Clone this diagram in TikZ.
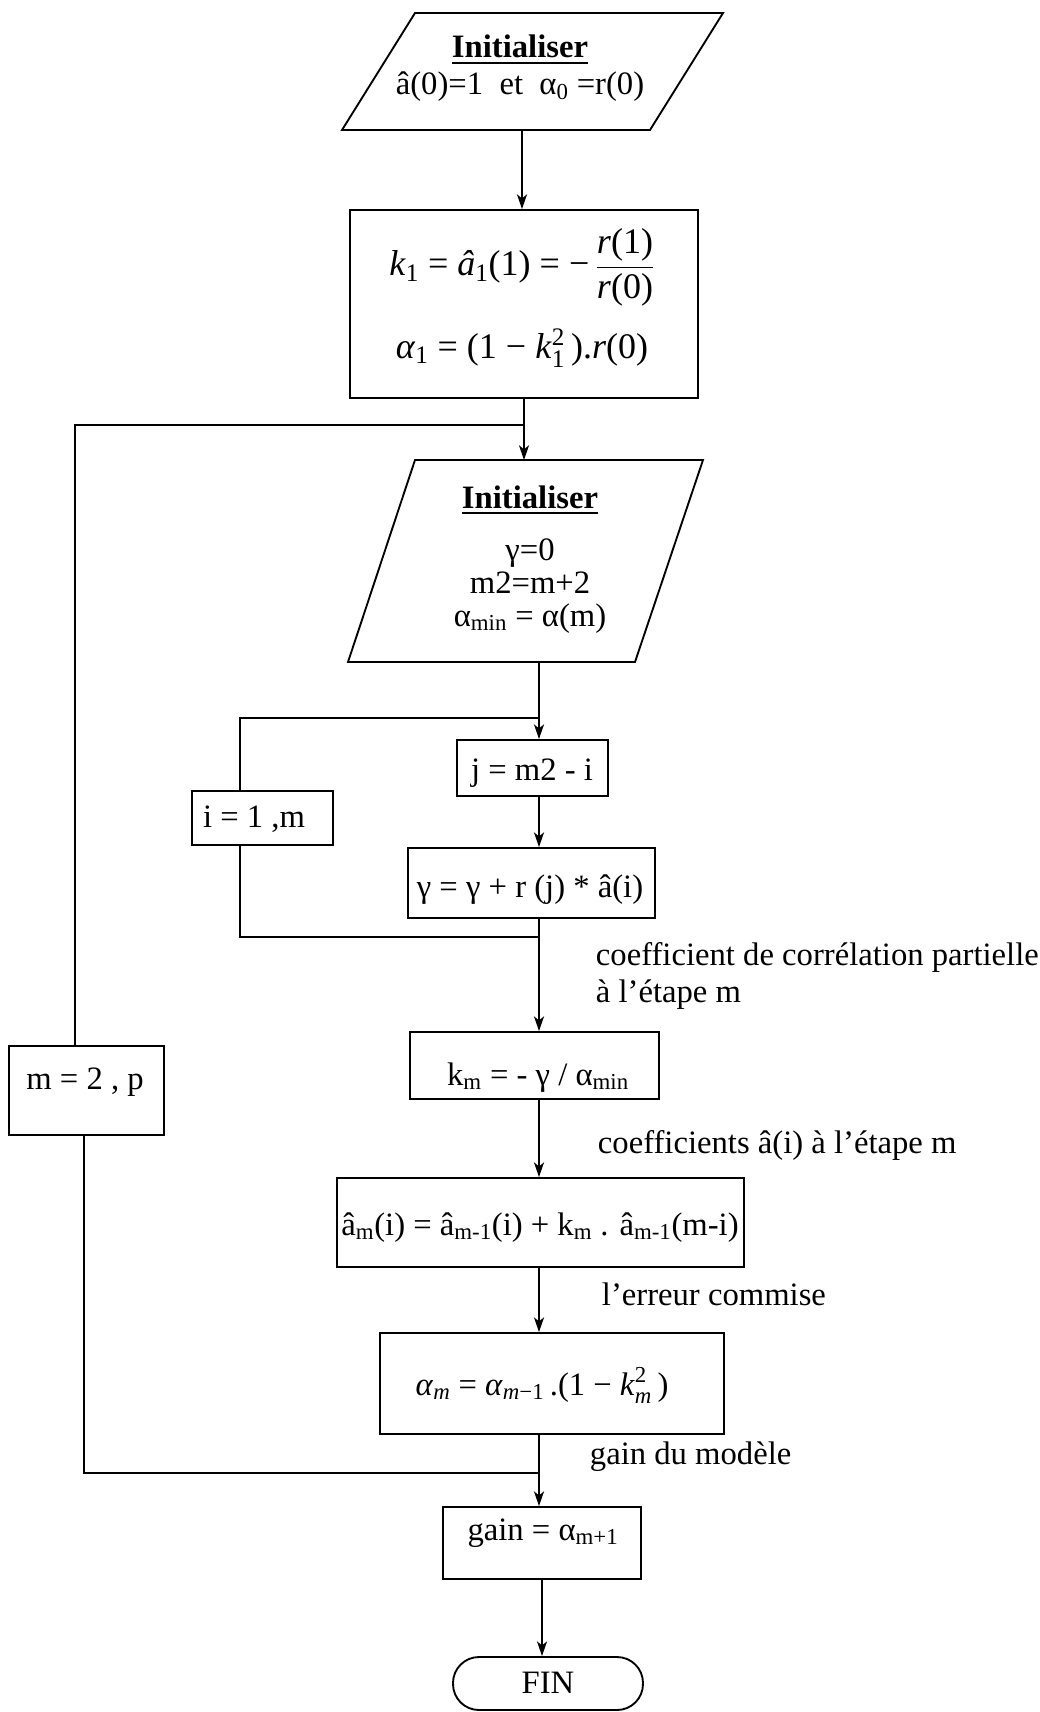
\documentclass[tikz,border=0pt]{standalone}
\usepackage{fontspec}
\usepackage{amsmath}
\setmainfont{Liberation Serif}
\usetikzlibrary{arrows.meta}
\newcommand\supsub[2]{$\text{}^{\text{#1}}_{\text{#2}}$}
\begin{document}
\begin{tikzpicture}[x=0.75pt,y=-0.75pt,
  line width=1.4pt,
  box/.style={draw, inner sep=0pt},
  wh/.style 2 args={minimum width=#1*0.75pt, minimum height=#2*0.75pt},
  txt/.style={anchor=base, inner sep=0pt, font=\fontsize{24.5}{29}\selectfont},
  mtxt/.style={anchor=base, inner sep=0pt, font=\fontsize{27}{32}\selectfont},
  lbl/.style={anchor=base west, inner sep=0pt, font=\fontsize{24.5}{29}\selectfont},
  arr/.style={-{Stealth[length=11pt,width=7.5pt,inset=3pt]}}]
\useasboundingbox (0,0) rectangle (1039,1712);
\fill[white] (0,0) rectangle (1039,1712);

% main column
\coordinate (c) at (539,0);

% first parallelogram
\draw (415,13) -- (723,13) -- (650,130) -- (342,130) -- cycle;
\node[txt] (i1a) at (520,58) {\underline{\textbf{Initialiser}}};
\node[txt] (i1b) at (520,95) {â(0)=1\ \ et\ \ α\textsubscript{0} =r(0)};
\coordinate (p1b) at (522,130);

% k1 box
\node[box, wh={348}{188}] (k1) at (524,304) {};
\node[mtxt] (k1a) at (522,276) {\textit{k}\textsubscript{1} = \textit{â}\textsubscript{1}(1) = −\,$\displaystyle\frac{\mbox{\textit{r}(1)}}{\mbox{\textit{r}(0)}}$};
\node[mtxt] (k1b) at (522,358) {\textit{α}\textsubscript{1} = (1 − \textit{k}\supsub{2}{1}\,).\textit{r}(0)};

% second parallelogram
\draw (415,460) -- (703,460) -- (635,662) -- (348,662) -- cycle;
\node[txt] (i2a) at (530,508) {\underline{\textbf{Initialiser}}};
\node[txt] (i2b) at (530,560) {γ=0};
\node[txt] (i2c) at (530,593) {m2=m+2};
\node[txt] (i2d) at (530,626) {α\textsubscript{min} = α(m)};
\coordinate (p2t) at (524,460);
\coordinate (p2b) at (539,662);

% inner loop
\node[box, wh={151}{56}] (jb) at (532.5,768) {};
\node[txt] (jt) at (532,780) {j = m2 - i};
\node[box, wh={141}{54}] (ib) at (262.5,818) {};
\node[txt] (it) at (254,827) {i = 1 ,m};
\node[box, wh={247}{70}] (gam) at (531.5,883) {};
\node[txt] (gt) at (530,897) {γ = γ + r (j) * â(i)};

\coordinate (itop) at (539,718);
\coordinate (ibot) at (539,937);
\coordinate (ilx) at (240,0);

% outer loop box
\node[box, wh={155}{89}] (mb) at (86.5,1090.5) {};
\node[txt] (mt) at (85,1089) {m = 2 , p};
\coordinate (otop) at (524,425);
\coordinate (obot) at (539,1473);
\coordinate (olx1) at (75,0);
\coordinate (olx2) at (84,0);

% lower boxes
\node[box, wh={249}{67}] (km) at (534.5,1065.5) {};
\node[txt] (kmt) at (538,1085) {k\textsubscript{m} = - γ / α\textsubscript{min}};
\node[box, wh={407}{89}] (am) at (540.5,1222.5) {};
\node[txt] (amt) at (540,1235) {â\textsubscript{m}(i) = â\textsubscript{m-1}(i) + k\textsubscript{m} . â\textsubscript{m-1}(m-i)};
\node[box, wh={344}{101}] (al) at (552,1383.5) {};
\node[txt] (alt) at (542,1395) {\textit{α}\textsubscript{\textit{m}} = \textit{α}\textsubscript{\textit{m}−1}\,.(1 − \textit{k}\supsub{2}{\textit{m}}\,)};
\node[box, wh={198}{72}] (gain) at (542,1543) {};
\node[txt] (gaint) at (543,1540) {gain = α\textsubscript{m+1}};
\node[box, rounded corners=19.5pt, wh={190}{53}] (fin) at (548,1683.5) {};
\node[txt] (fint) at (548,1693) {FIN};

% labels
\node[lbl] (l1) at (595,965) {coefficient de corrélation partielle};
\node[lbl] (l2) at (595,1002) {à l'étape m};
\node[lbl] (l3) at (597,1153) {coefficients â(i) à l'étape m};
\node[lbl] (l4) at (601,1305) {l'erreur commise};
\node[lbl] (l5) at (589,1464) {gain du modèle};

% connectors
\draw[arr] (p1b) -- (p1b |- k1.north);
\draw[arr] (k1.south) -- (p2t);
\draw[arr] (p2b) -- (p2b |- jb.north);
\draw[arr] (jb.south -| c) -- (gam.north -| c);
\draw[arr] (gam.south -| c) -- (km.north -| c);
\draw[arr] (km.south -| c) -- (am.north -| c);
\draw[arr] (am.south -| c) -- (al.north -| c);
\draw[arr] (al.south -| c) -- (gain.north -| c);
\draw[arr] (gain.south) -- (gain.south |- fin.north);

\draw (ibot) -| (ib.south -| ilx);
\draw (ib.north -| ilx) |- (itop);
\draw (obot) -| (mb.south -| olx2);
\draw (mb.north -| olx1) |- (otop);
\end{tikzpicture}
\end{document}
